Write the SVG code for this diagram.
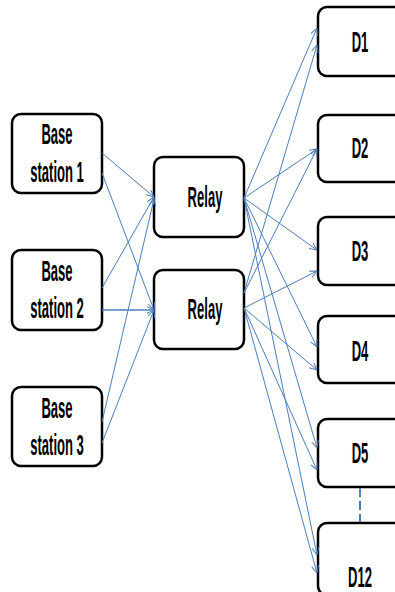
<svg xmlns="http://www.w3.org/2000/svg" width="395" height="592" viewBox="0 0 395 592">
<style>
.box{fill:#fff;stroke:#000;stroke-width:2.5}
.lbl{font-family:"Liberation Sans",Arial,sans-serif;font-weight:bold;font-size:29px;fill:#000;text-anchor:middle}
.ln{stroke:#4a7ebb;stroke-width:1;fill:none;marker-end:url(#ah)}
</style>
<defs>
<marker id="ah" viewBox="0 0 8 8" refX="7.5" refY="4" markerWidth="8" markerHeight="8" markerUnits="userSpaceOnUse" orient="auto">
<path d="M0,0.5 L7.5,4 L0,7.5" fill="none" stroke="#4a7ebb" stroke-width="1"/>
</marker>
</defs>
<rect width="395" height="592" fill="#fff"/>
<g id="bs1"><rect class="box" x="12" y="114" width="90" height="79" rx="9"/>
<text class="lbl" transform="translate(57,144) scale(0.45,1)">Base</text>
<text class="lbl" transform="translate(57,182) scale(0.45,1)">station 1</text></g>
<g id="bs2"><rect class="box" x="12" y="250" width="90" height="80" rx="9"/>
<text class="lbl" transform="translate(57,281) scale(0.45,1)">Base</text>
<text class="lbl" transform="translate(57,318) scale(0.45,1)">station 2</text></g>
<g id="bs3"><rect class="box" x="12" y="387" width="90" height="79" rx="9"/>
<text class="lbl" transform="translate(57,418) scale(0.45,1)">Base</text>
<text class="lbl" transform="translate(57,455) scale(0.45,1)">station 3</text></g>
<g id="relay1"><rect class="box" x="154" y="157" width="90" height="80" rx="9"/>
<text class="lbl" transform="translate(205,207) scale(0.45,1)">Relay</text></g>
<g id="relay2"><rect class="box" x="154" y="270" width="90" height="79" rx="9"/>
<text class="lbl" transform="translate(205,319) scale(0.45,1)">Relay</text></g>
<g id="d1"><rect class="box" x="318" y="7" width="86" height="69" rx="9"/>
<text class="lbl" transform="translate(360,52) scale(0.45,1)">D1</text></g>
<g id="d2"><rect class="box" x="318" y="115" width="86" height="67" rx="9"/>
<text class="lbl" transform="translate(360,158) scale(0.45,1)">D2</text></g>
<g id="d3"><rect class="box" x="318" y="217" width="86" height="68" rx="9"/>
<text class="lbl" transform="translate(360,261) scale(0.45,1)">D3</text></g>
<g id="d4"><rect class="box" x="318" y="316" width="86" height="67" rx="9"/>
<text class="lbl" transform="translate(360,361) scale(0.45,1)">D4</text></g>
<g id="d5"><rect class="box" x="318" y="419" width="86" height="68" rx="9"/>
<text class="lbl" transform="translate(360,463) scale(0.45,1)">D5</text></g>
<g id="d12"><rect class="box" x="318" y="523" width="86" height="72" rx="9"/>
<text class="lbl" transform="translate(360,587) scale(0.45,1)">D12</text></g>
<g id="connectors">
<line class="ln" x1="102" y1="153" x2="154" y2="197"/>
<line class="ln" x1="102" y1="173" x2="154" y2="310"/>
<line class="ln" x1="102" y1="288" x2="154" y2="197"/>
<line class="ln" x1="102" y1="310" x2="154" y2="310" style="stroke-width:1.5"/>
<line class="ln" x1="102" y1="422" x2="154" y2="199"/>
<line class="ln" x1="102" y1="443" x2="154" y2="310"/>
<line class="ln" x1="244" y1="198" x2="317" y2="28"/>
<line class="ln" x1="244" y1="198" x2="317" y2="149"/>
<line class="ln" x1="244" y1="198" x2="317" y2="250"/>
<line class="ln" x1="244" y1="198" x2="317" y2="347"/>
<line class="ln" x1="244" y1="198" x2="317" y2="448"/>
<line class="ln" x1="244" y1="198" x2="317" y2="555"/>
<line class="ln" x1="244" y1="293" x2="317" y2="45"/>
<line class="ln" x1="244" y1="293" x2="317" y2="149"/>
<line class="ln" x1="244" y1="308" x2="317" y2="271"/>
<line class="ln" x1="244" y1="308" x2="317" y2="370"/>
<line class="ln" x1="244" y1="308" x2="317" y2="470"/>
<line class="ln" x1="244" y1="308" x2="317" y2="573"/>
<line x1="360" y1="488" x2="360" y2="522" stroke="#4a7ebb" stroke-width="2" stroke-dasharray="9,4"/>
</g>
</svg>
